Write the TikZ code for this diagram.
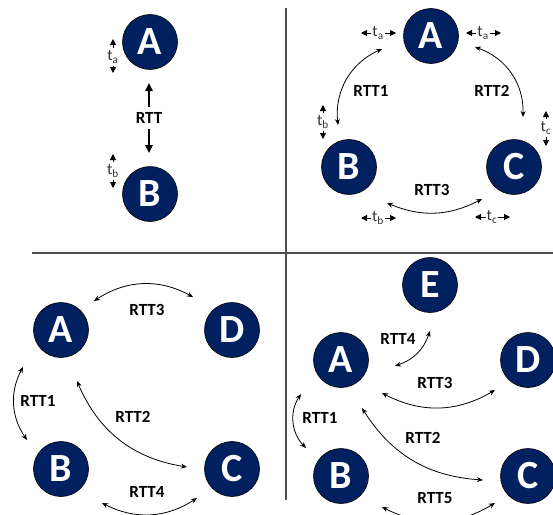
\documentclass[tikz,border=0pt]{standalone}
\usepackage{fontspec}
\setmainfont{Carlito}
\usetikzlibrary{arrows.meta}
\definecolor{navy}{HTML}{002060}
\definecolor{divgray}{HTML}{4D4D4D}
\definecolor{tgray}{HTML}{333333}
\begin{document}
\begin{tikzpicture}[x=1pt,y=-1pt,
  peer/.style={circle,fill=navy,draw=black,line width=0.6pt,minimum size=55pt,inner sep=0pt,
    text=white,font=\bfseries\fontsize{40}{40}\selectfont},
  rtt/.style={font=\bfseries\fontsize{17}{17}\selectfont,inner sep=1pt},
  tl/.style={font=\fontsize{16}{16}\selectfont,text=tgray,fill=white,inner sep=1pt},
  arc/.style={line width=0.8pt,{Stealth[length=6pt,width=5pt]}-{Stealth[length=6pt,width=5pt]}},
  tick/.style={line width=0.9pt,{Triangle[length=6pt,width=6pt]}-{Triangle[length=6pt,width=6pt]}},
  bigarr/.style={line width=1.3pt,-{Triangle[length=8pt,width=7.5pt]}},
  divider/.style={divgray,line width=1.3pt}]
\useasboundingbox (0,0) rectangle (553,514);
\clip (0,0) rectangle (553,514);
% dividers
\coordinate (vtop) at (286,8);
\coordinate (vbot) at (286,500);
\coordinate (hl) at (32,253);
\coordinate (hr) at (553,253);
\draw[divider] (vtop) -- (vbot);
\draw[divider] (hl) -- (hr);

% ---------- top-left ----------
\node[peer] (A1) at (150,42) {A};
\node[peer] (B1) at (150,194) {B};
\node[rtt,inner sep=5pt] (rtt0) at (149,118) {RTT};
\coordinate (r0a) at (149,83);
\coordinate (r0b) at (149,153);
\draw[bigarr] (rtt0.north) -- (r0a);
\draw[bigarr] (rtt0.south) -- (r0b);
\coordinate (ta1t) at (113,39);
\coordinate (ta1b) at (113,73);
\draw[tick] (ta1t) -- (ta1b);
\node[tl,inner sep=2.5pt] (ta1) at (113,57) {t\textsubscript{a}};
\coordinate (tb1t) at (113,154);
\coordinate (tb1b) at (113,188);
\draw[tick] (tb1t) -- (tb1b);
\node[tl,inner sep=2.5pt] (tb1) at (113,171) {t\textsubscript{b}};

% ---------- top-right ----------
\node[peer] (A2) at (431,36) {A};
\node[peer] (B2) at (349,167) {B};
\node[peer] (C2) at (514,167) {C};
\coordinate (p1) at (382,49);
\coordinate (p2) at (338,125);
\draw[arc] (p1) to[bend right=36] (p2);
\node[rtt] (l1) at (371,91) {RTT1};
\coordinate (p3) at (475,47);
\coordinate (p4) at (523,117);
\draw[arc] (p3) to[bend left=36] (p4);
\node[rtt] (l2) at (492,91) {RTT2};
\coordinate (p5) at (387,203);
\coordinate (p6) at (482,199);
\draw[arc] (p5) to[bend right=25] (p6);
\node[rtt] (l3) at (432,190) {RTT3};
% t labels
\coordinate (h1a) at (361,33); \coordinate (h1b) at (396,33);
\draw[tick] (h1a) -- (h1b);
\node[tl] (ta2l) at (378,33) {t\textsubscript{a}};
\coordinate (h2a) at (466,33); \coordinate (h2b) at (501,33);
\draw[tick] (h2a) -- (h2b);
\node[tl] (ta2r) at (483,33) {t\textsubscript{a}};
\coordinate (v1a) at (323,105); \coordinate (v1b) at (323,139);
\draw[tick] (v1a) -- (v1b);
\node[tl,inner sep=2.5pt] (tb2v) at (323,122) {t\textsubscript{b}};
\coordinate (v2a) at (546,111); \coordinate (v2b) at (546,146);
\draw[tick] (v2a) -- (v2b);
\node[tl,inner sep=2.5pt] (tc2v) at (546,128) {t\textsubscript{c}};
\coordinate (h3a) at (361,218); \coordinate (h3b) at (396,218);
\draw[tick] (h3a) -- (h3b);
\node[tl] (tb2h) at (378,218) {t\textsubscript{b}};
\coordinate (h4a) at (475,217); \coordinate (h4b) at (510,217);
\draw[tick] (h4a) -- (h4b);
\node[tl] (tc2h) at (492,217) {t\textsubscript{c}};

% ---------- bottom-left ----------
\node[peer] (A3) at (61,330) {A};
\node[peer] (D3) at (232,330) {D};
\node[peer] (B3) at (61,469) {B};
\node[peer] (C3) at (232,469) {C};
\coordinate (q1) at (94,301); \coordinate (q2) at (193,297);
\draw[arc] (q1) to[bend left=31] (q2);
\node[rtt] (m3) at (147,310) {RTT3};
\coordinate (q3) at (23,367); \coordinate (q4) at (27,440);
\draw[arc] (q3) to[bend right=31] (q4);
\node[rtt] (m1) at (38,401) {RTT1};
\coordinate (q5) at (77,381); \coordinate (q6) at (187,467);
\draw[arc] (q5) to[bend right=29] (q6);
\node[rtt] (m2) at (133,417) {RTT2};
\coordinate (q7) at (102,503); \coordinate (q8) at (197,498);
\draw[arc] (q7) to[bend right=30] (q8);
\node[rtt] (m4) at (147,492) {RTT4};

% ---------- bottom-right ----------
\node[peer] (E4) at (430,285) {E};
\node[peer] (A4) at (341,360) {A};
\node[peer] (D4) at (528,360) {D};
\node[peer] (B4) at (341,476) {B};
\node[peer] (C4) at (528,476) {C};
\coordinate (s1) at (395,366); \coordinate (s2) at (430,331);
\draw[arc] (s1) to[bend right=26] (s2);
\node[rtt] (n4) at (398,339) {RTT4};
\coordinate (s3) at (382,393); \coordinate (s4) at (495,390);
\draw[arc] (s3) to[bend right=29] (s4);
\node[rtt] (n3) at (435,383) {RTT3};
\coordinate (s5) at (301,394); \coordinate (s6) at (306,448);
\draw[arc] (s5) to[bend right=39] (s6);
\node[rtt] (n1) at (320,418) {RTT1};
\coordinate (s7) at (362,408); \coordinate (s8) at (483,480);
\draw[arc] (s7) to[bend right=27] (s8);
\node[rtt] (n2) at (423,438) {RTT2};
\coordinate (s9) at (382,507); \coordinate (s10) at (495,503);
\draw[arc] (s9) to[bend right=29] (s10);
\node[rtt] (n5) at (435,498) {RTT5};
\end{tikzpicture}
\end{document}
